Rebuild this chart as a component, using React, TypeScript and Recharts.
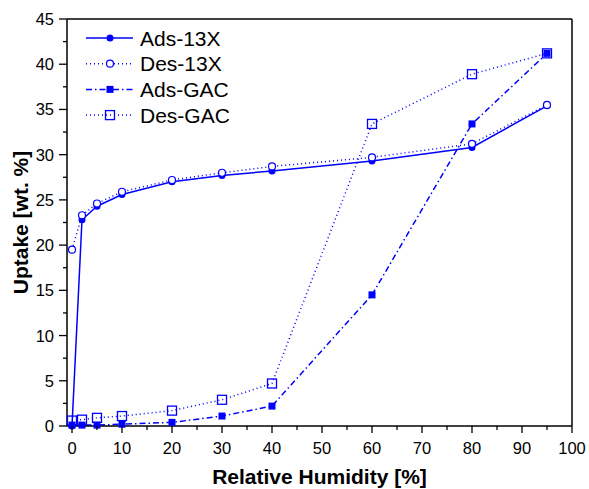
import React from "react";
import {
  LineChart,
  Line,
  XAxis,
  YAxis,
  ReferenceLine,
} from "recharts";

const humidity = [0, 2, 5, 10, 20, 30, 40, 60, 80, 95];
const ads13X = [0, 22.8, 24.3, 25.6, 27.0, 27.7, 28.2, 29.3, 30.8, 35.4];
const des13X = [19.5, 23.3, 24.6, 25.9, 27.2, 28.0, 28.7, 29.7, 31.2, 35.5];
const adsGAC = [0.1, 0.1, 0.1, 0.2, 0.4, 1.1, 2.2, 14.5, 33.4, 41.2];
const desGAC = [0.6, 0.7, 0.9, 1.1, 1.7, 2.9, 4.7, 33.4, 38.9, 41.2];

const xTicks = [0, 5, 10, 15, 20, 25, 30, 35, 40, 45, 50, 55, 60, 65, 70, 75, 80, 85, 90, 95, 100];
const yTicks = [0, 2.5, 5, 7.5, 10, 12.5, 15, 17.5, 20, 22.5, 25, 27.5, 30, 32.5, 35, 37.5, 40, 42.5, 45];

const data = humidity.map((h, i) => ({
  rh: h,
  ads13X: ads13X[i],
  des13X: des13X[i],
  adsGAC: adsGAC[i],
  desGAC: desGAC[i],
}));

const BLUE = "#0000ff";
const FONT = "'Liberation Sans', Arial, sans-serif";

const series = [
  { key: "ads13X", name: "Ads-13X", dash: undefined, marker: "dot" },
  { key: "des13X", name: "Des-13X", dash: "1 3", marker: "ring" },
  { key: "adsGAC", name: "Ads-GAC", dash: "6 3 1.5 3", marker: "square" },
  { key: "desGAC", name: "Des-GAC", dash: "1 3", marker: "box" },
];

function Marker({ kind, cx, cy }: { kind: string; cx: number; cy: number }) {
  if (kind === "dot") return <circle cx={cx} cy={cy} r={3.5} fill={BLUE} />;
  if (kind === "ring")
    return <circle cx={cx} cy={cy} r={3.5} fill="#fff" stroke={BLUE} strokeWidth={1.2} />;
  if (kind === "square")
    return <rect x={cx - 3.5} y={cy - 3.5} width={7} height={7} fill={BLUE} />;
  return (
    <rect x={cx - 4.5} y={cy - 4.5} width={9} height={9} fill="none" stroke={BLUE} strokeWidth={1.3} />
  );
}

const makeDot = (kind: string) => (props: any) => {
  const { cx, cy, index } = props;
  if (cx == null || cy == null) return <g key={index} />;
  return <Marker key={index} kind={kind} cx={cx} cy={cy} />;
};

function XTick(props: any) {
  const { x, y, payload } = props;
  const major = payload.value % 10 === 0;
  return (
    <g>
      <line x1={x} y1={y} x2={x} y2={y + (major ? 7 : 4)} stroke="#000" strokeWidth={1.3} />
      {major && (
        <text x={x} y={y + 28} textAnchor="middle" fontSize={16.5} fontFamily={FONT} fill="#000">
          {payload.value}
        </text>
      )}
    </g>
  );
}

function YTick(props: any) {
  const { x, y, payload } = props;
  const major = payload.value % 5 === 0;
  return (
    <g>
      <line x1={x} y1={y} x2={x - (major ? 8 : 4)} y2={y} stroke="#000" strokeWidth={1.3} />
      {major && (
        <text x={x - 13} y={y + 6} textAnchor="end" fontSize={16.5} fontFamily={FONT} fill="#000">
          {payload.value}
        </text>
      )}
    </g>
  );
}

function LegendBox() {
  return (
    <svg width={180} height={110} style={{ position: "absolute", left: 84, top: 26 }}>
      {series.map((s, i) => {
        const y = 12 + i * 25.7;
        return (
          <g key={s.key}>
            <line x1={2} y1={y} x2={49} y2={y} stroke={BLUE} strokeWidth={1.5} strokeDasharray={s.dash} />
            <Marker kind={s.marker} cx={26} cy={y} />
            <text x={56} y={y + 7.5} fontSize={21} fontFamily={FONT} fill="#000">
              {s.name}
            </text>
          </g>
        );
      })}
    </svg>
  );
}

export default function App() {
  return (
    <div style={{ position: "absolute", left: 0, top: 0, width: 589, height: 489, overflow: "hidden", background: "#fff" }}>
      <LineChart
        width={589}
        height={489}
        data={data}
        margin={{ top: 19, right: 17, left: 0, bottom: 0 }}
      >
        <XAxis
          dataKey="rh"
          type="number"
          domain={[-1, 100]}
          ticks={xTicks}
          interval={0}
          height={63}
          tickSize={0}
          tickMargin={0}
          tickLine={false}
          tick={<XTick />}
          axisLine={{ stroke: "#000", strokeWidth: 1.5 }}
          label={{
            value: "Relative Humidity [%]",
            position: "insideBottom",
            offset: 5,
            style: { fontSize: 21, fontWeight: "bold", fontFamily: FONT, fill: "#000" },
          }}
        />
        <YAxis
          type="number"
          domain={[0, 45]}
          ticks={yTicks}
          interval={0}
          width={67}
          tickSize={0}
          tickMargin={0}
          tickLine={false}
          tick={<YTick />}
          axisLine={{ stroke: "#000", strokeWidth: 1.5 }}
          label={{
            value: "Uptake [wt. %]",
            angle: -90,
            position: "insideLeft",
            offset: 21,
            style: { textAnchor: "middle", fontSize: 21, fontWeight: "bold", fontFamily: FONT, fill: "#000" },
          }}
        />
        <ReferenceLine y={45} stroke="#000" strokeWidth={1.5} />
        <ReferenceLine x={100} stroke="#000" strokeWidth={1.5} />
        {series.map((s) => (
          <Line
            key={s.key}
            dataKey={s.key}
            name={s.name}
            type="linear"
            stroke={BLUE}
            strokeWidth={1.5}
            strokeDasharray={s.dash}
            dot={makeDot(s.marker)}
            activeDot={false}
            isAnimationActive={false}
          />
        ))}
      </LineChart>
      <LegendBox />
    </div>
  );
}
